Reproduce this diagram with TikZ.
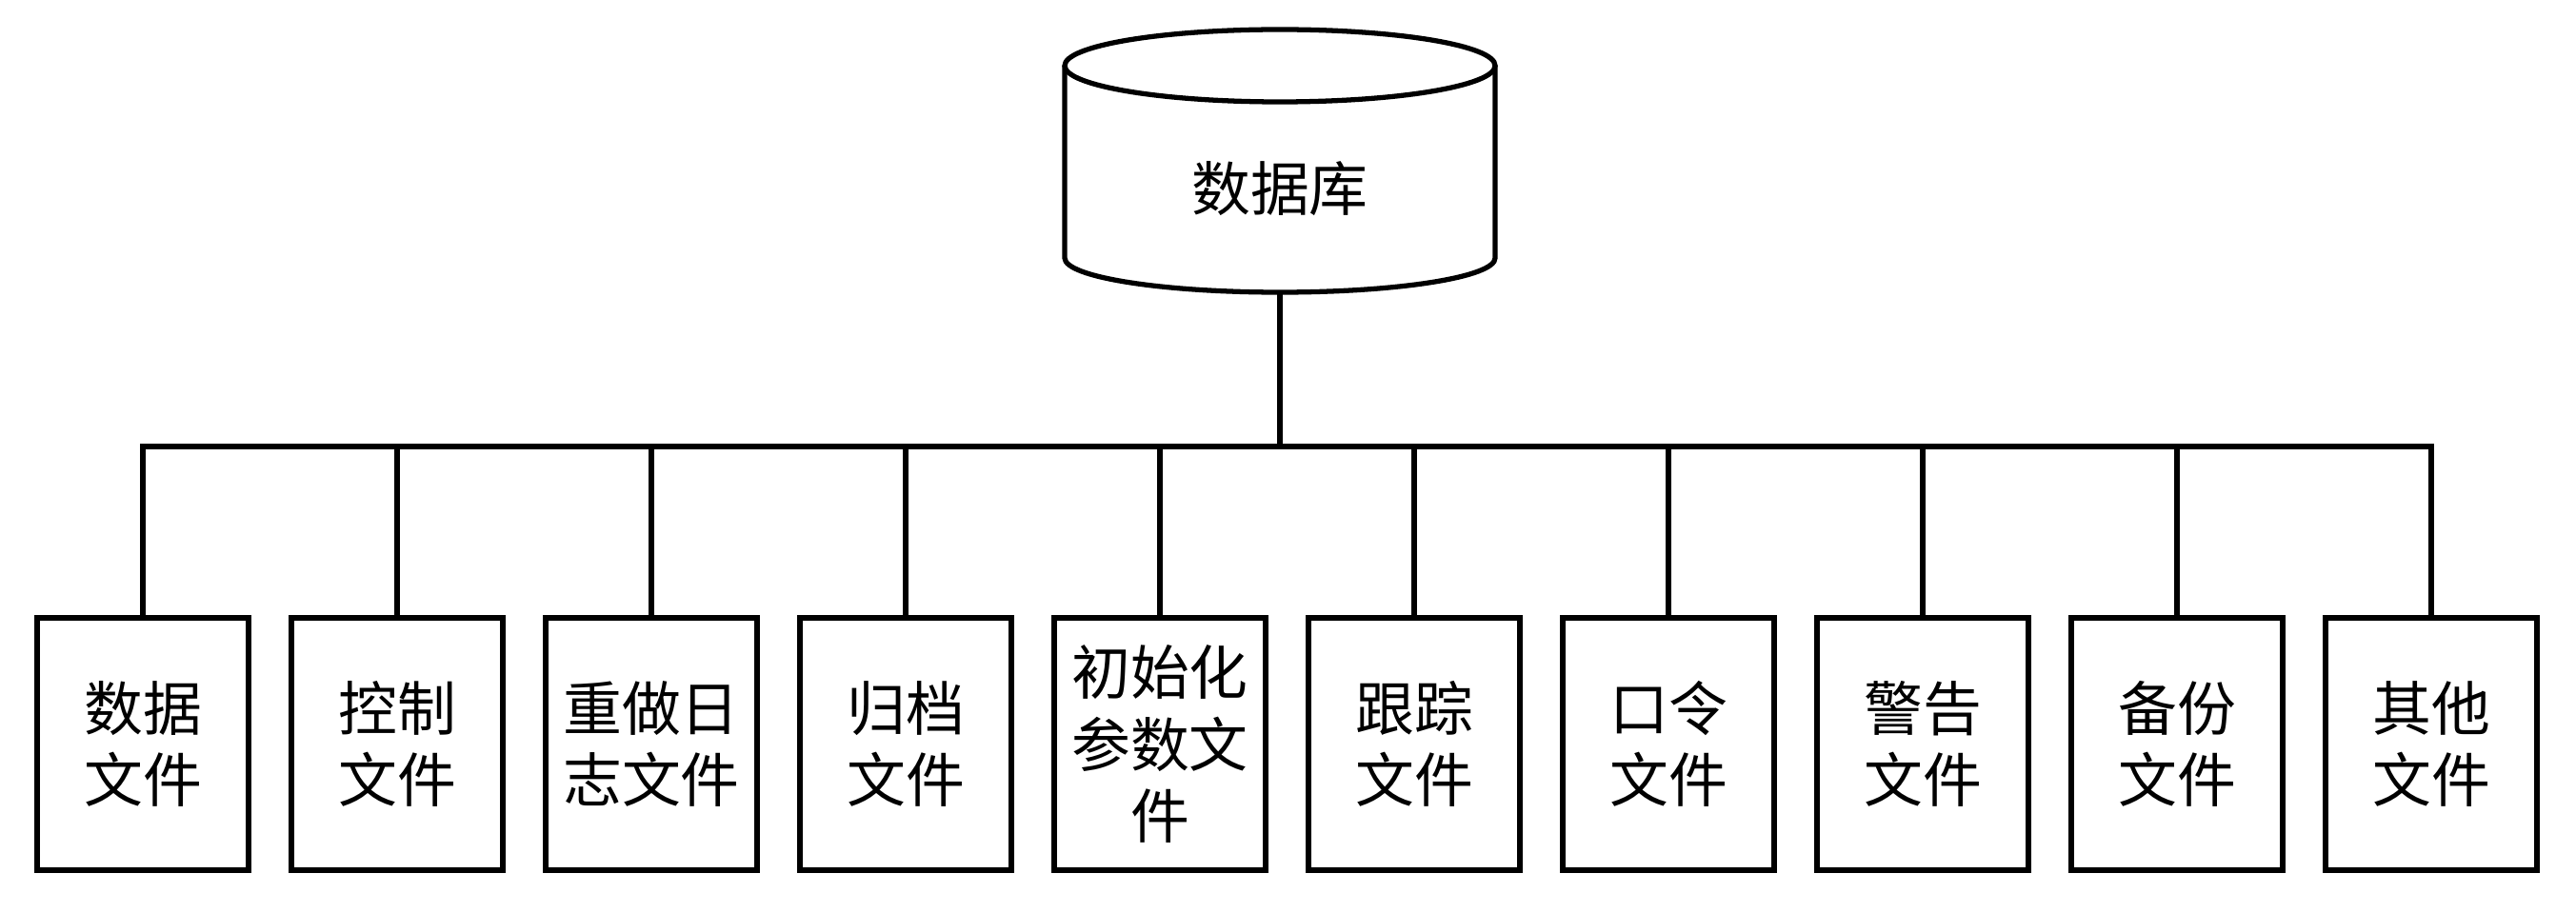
\documentclass[tikz,border=0pt]{standalone}
\usepackage{fontspec}
\newfontfamily\cjk{Noto Sans CJK SC}
\begin{document}
\begin{tikzpicture}[line width=1.5pt, font=\cjk\fontsize{17.6}{21.5}\selectfont,
	filebox/.style={draw, minimum width=2.22cm, minimum height=2.65cm, align=center, inner sep=0pt}]
	\useasboundingbox (0,0) rectangle (27.05,9.58);
	\def\busy{4.89} % hoehe der sammelleitung
	% datenbank
	\draw (13.44,8.89) ellipse[x radius=2.26, y radius=0.38];
	\draw (11.18,8.89) -- (11.18,6.87) arc[start angle=180, end angle=360, x radius=2.26, y radius=0.36] -- (15.70,8.89);
	\node (db) at (13.44,7.60) {数据库};
	\coordinate (dbbot) at (13.44,6.51);
	\coordinate (bus) at (13.44,\busy);
	\path 
	(1.50,1.765) node[filebox] (f1) {数据\\文件}
	(4.17,1.765) node[filebox] (f2) {控制\\文件}
	(6.84,1.765) node[filebox] (f3) {重做日\\志文件}
	(9.51,1.765) node[filebox] (f4) {归档\\文件}
	(12.18,1.765) node[filebox] (f5) {初始化\\参数文\\件}
	(14.85,1.765) node[filebox] (f6) {跟踪\\文件}
	(17.52,1.765) node[filebox] (f7) {口令\\文件}
	(20.19,1.765) node[filebox] (f8) {警告\\文件}
	(22.86,1.765) node[filebox] (f9) {备份\\文件}
	(25.53,1.765) node[filebox] (f10) {其他\\文件};
	\draw (dbbot)--(bus);
	\draw (f1.north)--(f1.north |- bus)--(f10.north |- bus)--(f10.north);
	\foreach \i in {2,...,9}
	\draw (f\i.north)--(f\i.north |- bus);
\end{tikzpicture}
\end{document}
